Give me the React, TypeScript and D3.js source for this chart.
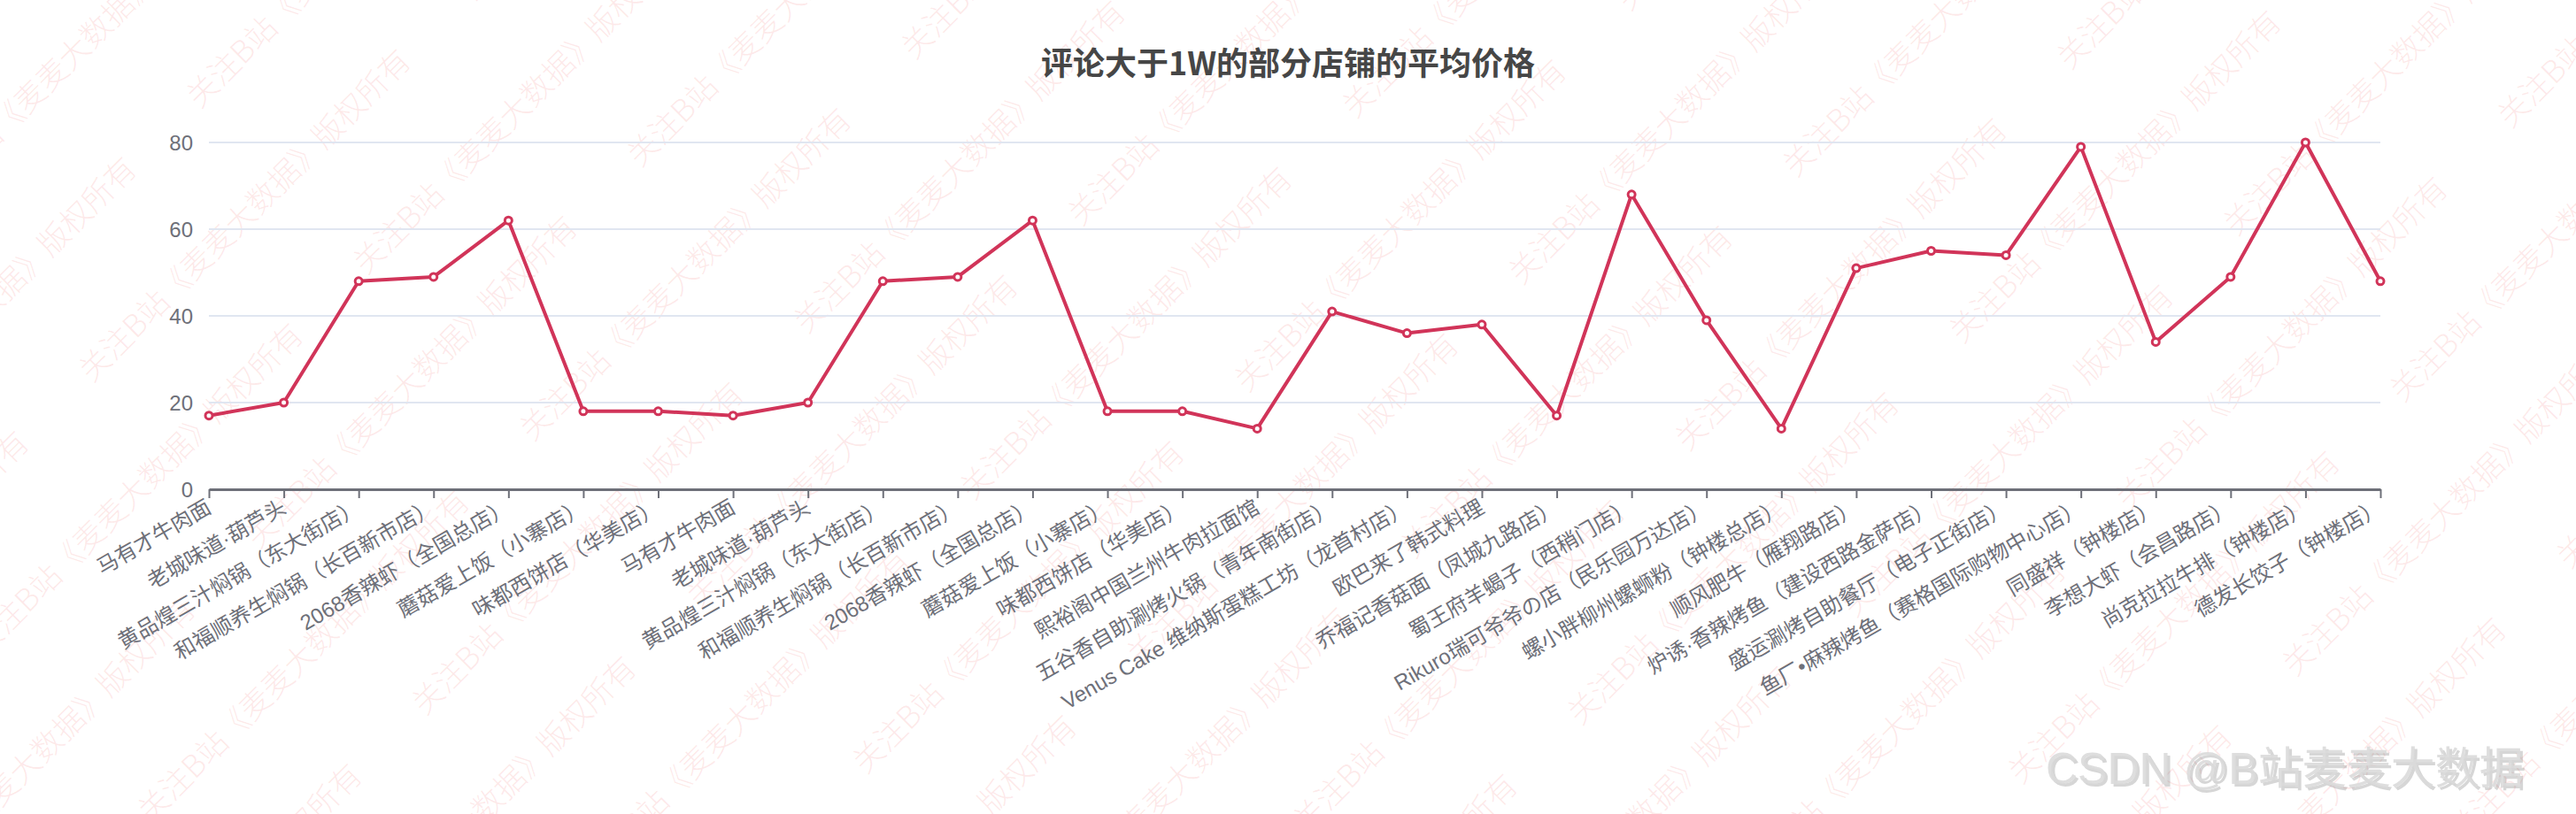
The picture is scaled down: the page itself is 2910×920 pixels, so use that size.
import React, { useEffect, useRef } from "react";
import * as d3 from "d3";

// 店铺名称（x轴）
const shops = [
  "马有才牛肉面",
  "老城味道·葫芦头",
  "黄品煌三汁焖锅（东大街店）",
  "和福顺养生焖锅（长百新市店）",
  "2068香辣虾（全国总店）",
  "蘑菇爱上饭（小寨店）",
  "味都西饼店（华美店）",
  "马有才牛肉面",
  "老城味道·葫芦头",
  "黄品煌三汁焖锅（东大街店）",
  "和福顺养生焖锅（长百新市店）",
  "2068香辣虾（全国总店）",
  "蘑菇爱上饭（小寨店）",
  "味都西饼店（华美店）",
  "熙裕阁中国兰州牛肉拉面馆",
  "五谷香自助涮烤火锅（青年南街店）",
  "Venus Cake 维纳斯蛋糕工坊（龙首村店）",
  "欧巴来了韩式料理",
  "乔福记香菇面（凤城九路店）",
  "蜀王府羊蝎子（西稍门店）",
  "Rikuro瑞可爷爷の店（民乐园万达店）",
  "螺小胖柳州螺蛳粉（钟楼总店）",
  "顺风肥牛（雁翔路店）",
  "炉诱·香辣烤鱼（建设西路金萨店）",
  "盛运涮烤自助餐厅（电子正街店）",
  "鱼厂•麻辣烤鱼（赛格国际购物中心店）",
  "同盛祥（钟楼店）",
  "李想大虾（会昌路店）",
  "尚克拉拉牛排（钟楼店）",
  "德发长饺子（钟楼店）",
];

// 平均价格
const prices = [17, 20, 48, 49, 62, 18, 18, 17, 20, 48, 49, 62, 18, 18, 14, 41, 36, 38, 17, 68, 39, 14, 51, 55, 54, 79, 34, 49, 80, 48];

const yTicks = [0, 20, 40, 60, 80];

const title = "评论大于1W的部分店铺的平均价格";
const markText = "关注B站《麦麦大数据》版权所有";

const W = 2910;
const H = 920;
const font = "'Liberation Sans', 'Noto Sans CJK SC', sans-serif";

export default function App() {
  const ref = useRef<SVGSVGElement>(null);

  useEffect(() => {
    const svg = d3.select(ref.current);
    svg.selectAll("*").remove();

    const left = 236;
    const right = 2689;
    const top = 161;
    const bottom = 553;

    const x = d3.scalePoint<number>().domain(d3.range(shops.length)).range([left, right]);
    const y = d3.scaleLinear().domain([0, 80]).range([bottom, top]);

    svg.append("rect").attr("width", W).attr("height", H).attr("fill", "#fff");

    // 水印（斜向平铺）
    const wm = svg.append("g").attr("transform", "rotate(-45)");
    for (let r = -16; r <= 8; r++) {
      const v = 1710 + 133 * r;
      const shift = Math.abs(r) % 2 === 1 ? 305 : 0;
      for (let k = -6; k <= 3; k++) {
        const u = 1597 + shift + 610 * k;
        wm.append("text")
          .attr("x", u)
          .attr("y", v)
          .text(markText)
          .attr("font-family", "'Noto Sans CJK SC', serif")
          .attr("font-size", 35)
          .attr("font-weight", 300)
          .attr("fill", "rgba(240, 80, 80, 0.13)");
      }
    }

    // 网格线
    svg.append("g")
      .selectAll("line")
      .data(yTicks.slice(1))
      .join("line")
      .attr("x1", left)
      .attr("x2", right)
      .attr("y1", (d) => y(d))
      .attr("y2", (d) => y(d))
      .attr("stroke", "#E0E6F1")
      .attr("stroke-width", 2);

    // y轴标签
    svg.append("g")
      .selectAll("text")
      .data(yTicks)
      .join("text")
      .attr("x", left - 18)
      .attr("y", (d) => y(d))
      .attr("text-anchor", "end")
      .attr("dominant-baseline", "central")
      .attr("font-family", font)
      .attr("font-size", 24)
      .attr("fill", "#6E7079")
      .text((d) => d);

    // x轴
    const xAxis = d3.axisBottom(x).tickSize(10).tickSizeOuter(0).tickFormat(() => "");
    const gx = svg.append("g").attr("transform", `translate(0, ${bottom})`).call(xAxis);
    gx.select(".domain").attr("stroke", "#6E7079").attr("stroke-width", 3);
    gx.selectAll(".tick line").attr("stroke", "#6E7079").attr("stroke-width", 2);

    svg.append("g")
      .selectAll("text")
      .data(shops)
      .join("text")
      .attr("transform", (d, i) => `translate(${x(i)}, ${bottom + 18}) rotate(-30)`)
      .attr("text-anchor", "end")
      .attr("dominant-baseline", "central")
      .attr("font-family", font)
      .attr("font-size", 24)
      .attr("fill", "#6E7079")
      .text((d) => d);

    // 折线
    const line = d3.line<number>().x((d, i) => x(i) as number).y((d) => y(d));
    svg.append("path")
      .datum(prices)
      .attr("d", line)
      .attr("fill", "none")
      .attr("stroke", "#d13459")
      .attr("stroke-width", 4)
      .attr("stroke-linejoin", "round");

    svg.append("g")
      .selectAll("circle")
      .data(prices)
      .join("circle")
      .attr("cx", (d, i) => x(i) as number)
      .attr("cy", (d) => y(d))
      .attr("r", 4)
      .attr("fill", "#fff")
      .attr("stroke", "#d13459")
      .attr("stroke-width", 3);

    // 标题
    svg.append("text")
      .attr("x", W / 2)
      .attr("y", 85)
      .attr("text-anchor", "middle")
      .attr("font-family", "'Noto Sans CJK SC', sans-serif")
      .attr("font-size", 36)
      .attr("font-weight", 700)
      .attr("fill", "#464646")
      .text(title);

    // CSDN 水印
    const csdn = svg.append("g").attr("font-family", "'Liberation Sans', 'Noto Sans CJK SC', sans-serif").attr("font-size", 50);
    csdn.append("text").attr("x", 2314).attr("y", 889).attr("fill", "rgba(120,120,120,0.3)").text("CSDN @B站麦麦大数据");
    csdn.append("text").attr("x", 2311).attr("y", 886).attr("fill", "rgba(218,218,218,0.9)").text("CSDN @B站麦麦大数据");
  }, []);

  return (
    <svg
      ref={ref}
      width={W}
      height={H}
      style={{ position: "absolute", left: 0, top: 0, display: "block" }}
    />
  );
}
